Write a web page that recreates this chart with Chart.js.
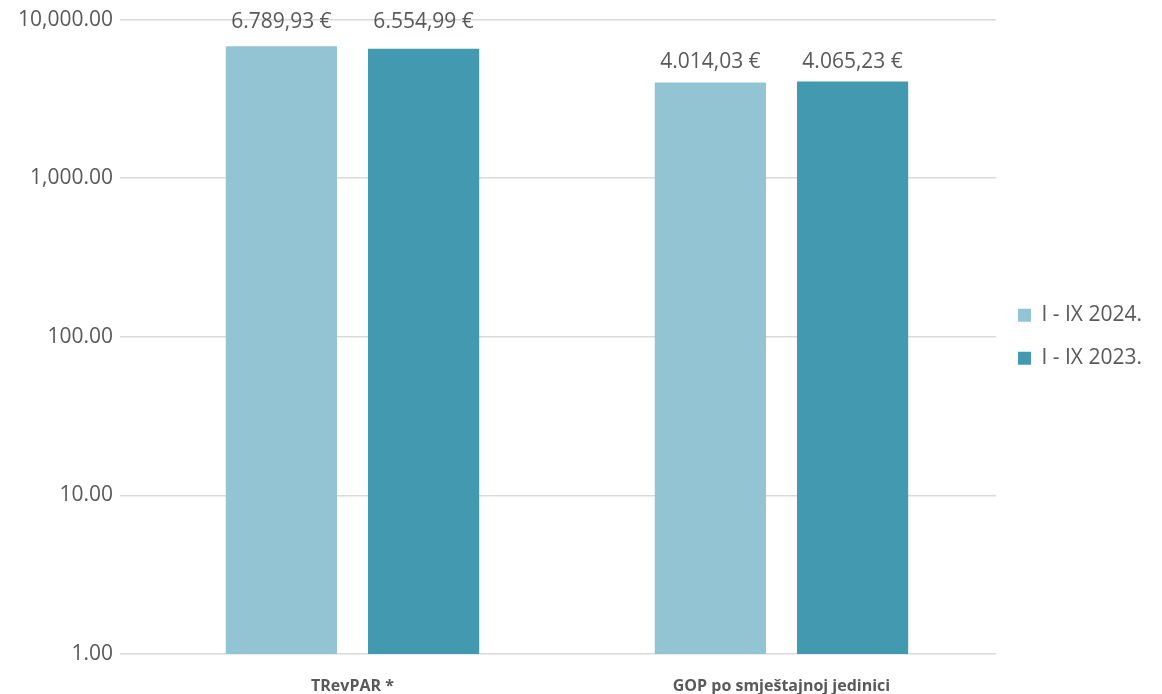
<!DOCTYPE html>
<html>
<head>
<meta charset="utf-8">
<script src="https://cdn.jsdelivr.net/npm/chart.js@4/dist/chart.umd.min.js"></script>
<style>
  html, body { margin: 0; padding: 0; background: #fff; }
  #wrap { width: 1162px; height: 694px; }
</style>
</head>
<body>
<div id="wrap"><canvas id="gopChart"></canvas></div>
<script>
'use strict';

// ---- Data ----
const categories = ['TRevPAR *', 'GOP po smještajnoj jedinici'];
const seriesNames = ['I - IX 2024.', 'I - IX 2023.'];
const values2024 = [6789.93, 4014.03];
const values2023 = [6554.99, 4065.23];
const yTicks = [1, 10, 100, 1000, 10000];

const COLORS = {
  light: '#93c4d4',
  dark:  '#4299b0',
  grid:  '#d9d9d9',
  text:  '#595959',
};
const FONT = "'Open Sans', sans-serif";

// 6789.93 -> "6.789,93 €"
function euro(v) {
  const parts = v.toFixed(2).split('.');
  const int = parts[0].replace(/\B(?=(\d{3})+(?!\d))/g, '.');
  return int + ',' + parts[1] + ' €';
}

// ---- Value labels above bars (pinned to the top edge when crowded) ----
const barLabels = {
  id: 'barLabels',
  afterDatasetsDraw(chart) {
    const ctx = chart.ctx;
    ctx.save();
    ctx.font = '21px ' + FONT;
    ctx.fillStyle = COLORS.text;
    ctx.textAlign = 'center';
    ctx.textBaseline = 'alphabetic';
    chart.data.datasets.forEach((ds, i) => {
      chart.getDatasetMeta(i).data.forEach((bar, j) => {
        let y = bar.y - 14;
        if (y < 40) y = 28;
        ctx.fillText(euro(ds.data[j]), bar.x, y);
      });
    });
    ctx.restore();
  }
};

new Chart(document.getElementById('gopChart'), {
  type: 'bar',
  data: {
    labels: categories,
    datasets: [
      { label: seriesNames[0], data: values2024, backgroundColor: COLORS.light },
      { label: seriesNames[1], data: values2023, backgroundColor: COLORS.dark },
    ]
  },
  options: {
    responsive: true,
    maintainAspectRatio: false,
    animation: false,
    categoryPercentage: 0.663,
    barPercentage: 0.782,
    layout: { padding: { top: 8, right: 10, bottom: 0, left: 0 } },
    plugins: {
      legend: {
        position: 'right',
        fullSize: false,
        labels: {
          color: COLORS.text,
          font: { family: FONT, size: 21 },
          boxWidth: 13,
          boxHeight: 13,
          padding: 22,
        }
      },
      tooltip: { enabled: false },
    },
    scales: {
      x: {
        grid: { display: false, drawTicks: false },
        border: { display: false },
        afterFit: (scale) => { scale.height = 40; },
        ticks: {
          color: COLORS.text,
          font: { family: FONT, size: 16, weight: 'bold' },
          padding: 23,
          maxRotation: 0,
        }
      },
      y: {
        type: 'logarithmic',
        min: 1,
        max: 10000,
        border: { display: false },
        grid: { color: COLORS.grid, lineWidth: 1.5, drawTicks: true, tickLength: 18 },
        afterBuildTicks: (scale) => { scale.ticks = yTicks.map(v => ({ value: v })); },
        afterFit: (scale) => { scale.width = 138; },
        ticks: {
          color: COLORS.text,
          font: { family: FONT, size: 21 },
          padding: 7,
          callback: (v) => Number(v).toLocaleString('en-US', { minimumFractionDigits: 2, maximumFractionDigits: 2 }),
        }
      }
    }
  },
  plugins: [barLabels]
});
</script>
</body>
</html>
